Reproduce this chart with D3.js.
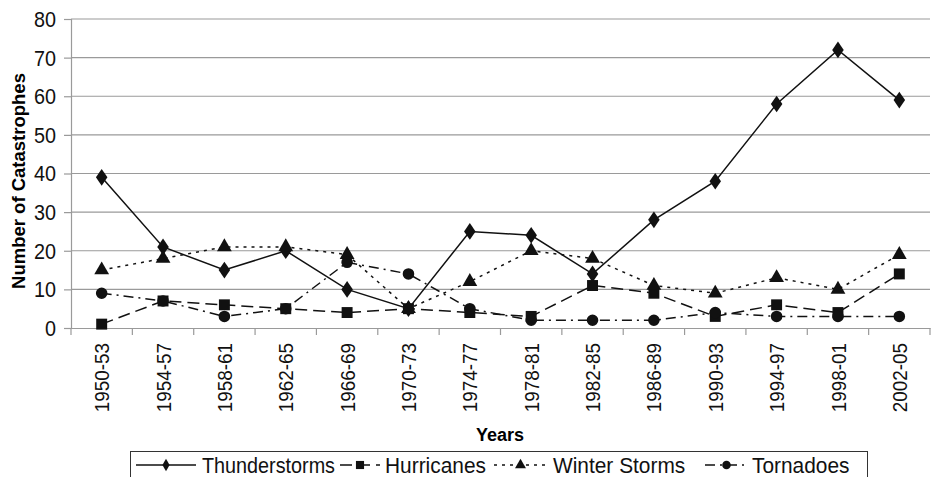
<!DOCTYPE html>
<html>
<head>
<meta charset="utf-8">
<script src="https://cdn.jsdelivr.net/npm/d3@7"></script>
<style>
  body { margin: 0; background: #fff; }
  svg { display: block; font-family: Arial, "Liberation Sans", sans-serif; }
</style>
</head>
<body>
<svg id="chart" width="932" height="477"></svg>
<script>
// categories
const periods = ['1950-53', '1954-57', '1958-61', '1962-65', '1966-69', '1970-73', '1974-77',
  '1978-81', '1982-85', '1986-89', '1990-93', '1994-97', '1998-01', '2002-05'];

// series values
const thunderstorms = [39, 21, 15, 20, 10, 5, 25, 24, 14, 28, 38, 58, 72, 59];
const hurricanes = [1, 7, 6, 5, 4, 5, 4, 3, 11, 9, 3, 6, 4, 14];
const winterStorms = [15, 18, 21, 21, 19, 5, 12, 20, 18, 11, 9, 13, 10, 19];
const tornadoes = [9, 7, 3, 5, 17, 14, 5, 2, 2, 2, 4, 3, 3, 3];

const yTicks = [0, 10, 20, 30, 40, 50, 60, 70, 80];

const series = [
  {name: 'Thunderstorms', values: thunderstorms, dash: null, symbol: d3.symbolDiamond, size: 80},
  {name: 'Hurricanes', values: hurricanes, dash: '12,6', symbol: d3.symbolSquare, size: 120},
  {name: 'Winter Storms', values: winterStorms, dash: '3,5', symbol: d3.symbolTriangle, size: 95},
  {name: 'Tornadoes', values: tornadoes, dash: '10,5,2,5', symbol: d3.symbolCircle, size: 105}
];

const svg = d3.select('#chart');
const margin = {left: 71, right: 2, top: 19, bottom: 149};
const width = 932 - margin.left - margin.right;
const height = 477 - margin.top - margin.bottom;
const g = svg.append('g').attr('transform', `translate(${margin.left},${margin.top})`);

const x = d3.scaleBand().domain(periods).range([0, width]);
const y = d3.scaleLinear().domain([0, 80]).range([height, 0]);
const sx = 0.9; // texte un peu condensé comme sur l'original

// grid lines
g.selectAll('.grid')
  .data(yTicks.filter(d => d > 0))
  .enter().append('line')
  .attr('x1', 0).attr('x2', width)
  .attr('y1', d => y(d)).attr('y2', d => y(d))
  .attr('stroke', '#9a9a9a').attr('stroke-width', 1.2);

// y axis
const yAxis = g.append('g').call(d3.axisLeft(y).tickValues(yTicks).tickSize(7).tickFormat(''));
yAxis.selectAll('line').attr('stroke', '#9a9a9a').attr('stroke-width', 1.2);
yAxis.select('.domain').attr('stroke', '#9a9a9a').attr('stroke-width', 1.2);
g.selectAll('.ylabel')
  .data(yTicks)
  .enter().append('text')
  .attr('transform', d => `translate(-15,${y(d)}) scale(${sx},1)`)
  .attr('dy', '0.36em')
  .attr('text-anchor', 'end')
  .attr('font-size', 22)
  .attr('fill', '#111')
  .text(d => d);

// x axis
const xAxis = g.append('g').attr('transform', `translate(0,${height})`)
  .call(d3.axisBottom(x).tickSize(0).tickFormat(''));
xAxis.select('.domain').attr('stroke', '#9a9a9a').attr('stroke-width', 1.2);
g.selectAll('.xtick')
  .data(d3.range(periods.length + 1))
  .enter().append('line')
  .attr('x1', i => i * x.bandwidth()).attr('x2', i => i * x.bandwidth())
  .attr('y1', height).attr('y2', height + 7)
  .attr('stroke', '#9a9a9a').attr('stroke-width', 1.2);
g.selectAll('.xlabel')
  .data(periods)
  .enter().append('text')
  .attr('transform', d => `translate(${x(d) + x.bandwidth() / 2},${height + 15}) rotate(-90) scale(${sx},1)`)
  .attr('dy', '0.36em')
  .attr('text-anchor', 'end')
  .attr('font-size', 21)
  .attr('fill', '#111')
  .text(d => d);

// axis titles
svg.append('text')
  .attr('transform', `translate(25,181) rotate(-90)`)
  .attr('text-anchor', 'middle')
  .attr('font-size', 18.5).attr('font-weight', 'bold')
  .text('Number of Catastrophes');
svg.append('text')
  .attr('x', 500).attr('y', 441)
  .attr('text-anchor', 'middle')
  .attr('font-size', 18).attr('font-weight', 'bold')
  .text('Years');

// lines + markers
const line = d3.line()
  .x((d, i) => x(periods[i]) + x.bandwidth() / 2)
  .y(d => y(d));

series.forEach(s => {
  g.append('path')
    .datum(s.values)
    .attr('d', line)
    .attr('fill', 'none')
    .attr('stroke', '#111')
    .attr('stroke-width', 1.5)
    .attr('stroke-dasharray', s.dash);
  g.selectAll(null)
    .data(s.values)
    .enter().append('path')
    .attr('d', d3.symbol().type(s.symbol).size(s.size))
    .attr('transform', (d, i) => `translate(${x(periods[i]) + x.bandwidth() / 2},${y(d)})${s.symbol === d3.symbolDiamond ? ' scale(1.2,1)' : ''}`)
    .attr('fill', '#111');
});

// legend
const legend = svg.append('g');
legend.append('rect')
  .attr('x', 130.5).attr('y', 451.5).attr('width', 737).attr('height', 26)
  .attr('fill', '#fff').attr('stroke', '#333');
const legendLine = [[136, 196], [340, 380], [494, 547], [705, 748]];
const legendText = [202, 385, 553, 752];
series.forEach((s, i) => {
  const [a, b] = legendLine[i];
  const lg = legend.append('g').attr('transform', 'translate(0,465)');
  lg.append('line').attr('x1', a).attr('x2', b)
    .attr('stroke', '#111').attr('stroke-width', 1.5)
    .attr('stroke-dasharray', s.dash);
  lg.append('path')
    .attr('d', d3.symbol().type(s.symbol).size(s.size * 0.55))
    .attr('transform', `translate(${(a + b) / 2},0)`)
    .attr('fill', '#111');
  lg.append('text')
    .attr('transform', `translate(${legendText[i]},8) scale(${i === 0 ? sx : 0.95},1)`)
    .attr('font-size', 22)
    .attr('fill', '#111')
    .text(s.name);
});
</script>
</body>
</html>
